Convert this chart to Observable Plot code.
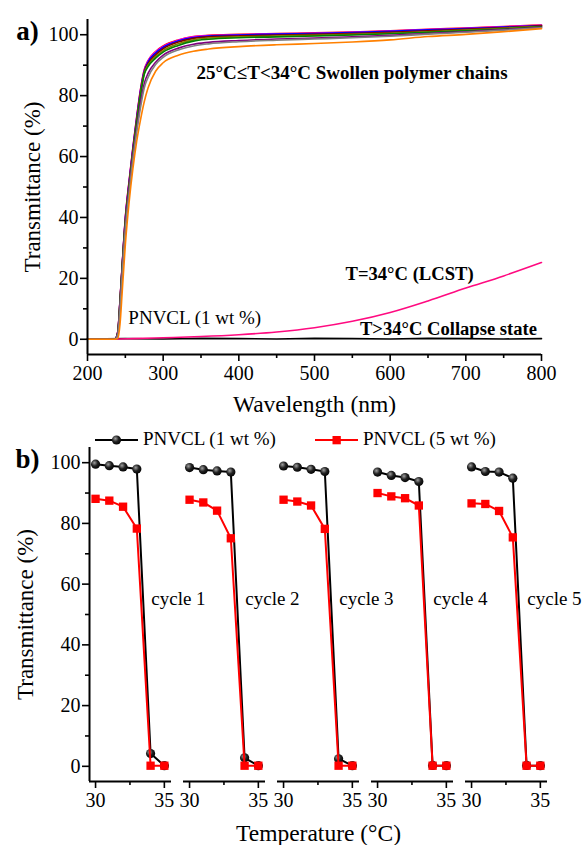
<!DOCTYPE html>
<html><head><meta charset="utf-8">
<script src="https://cdn.jsdelivr.net/npm/d3@7"></script>
<script src="https://cdn.jsdelivr.net/npm/@observablehq/plot@0.6"></script>
<style>
body{margin:0;background:#fff;}
#wrap{position:relative;width:582px;height:845px;overflow:hidden;background:#fff;font-family:"Liberation Serif","Times New Roman",serif;}
#top svg,#bottom svg{display:block}
#wrap svg text{font-family:"Liberation Serif","Times New Roman",serif !important;}
.leg{position:absolute;font-size:19px;line-height:20px;color:#000;white-space:nowrap}
</style></head>
<body><div id="wrap"><div id="top"></div><div id="bottom"></div><div id="legend"></div></div>
<script>
// ---------- Panel a) data ----------
const wavelength = [200, 236, 240, 243, 246, 250, 255, 260, 265, 270, 275, 280, 290, 300, 320, 340, 360, 400, 450, 500, 550, 600, 650, 700, 750, 800];
const swollenTemps = ["25", "26", "27", "28", "29", "30", "31", "32", "33"];
const swollenColors = ["#ff0000", "#ff00ff", "#0000ff", "#800000", "#808000", "#008000", "#800080", "#808080", "#ff8000"];
const tRed     = [0, 0, 2.5, 13, 25, 40, 52, 63, 73, 82, 88.5, 91.5, 94.5, 96.3, 98.3, 99.4, 99.8, 100.1, 100.4, 100.6, 100.9, 101.3, 101.8, 102.2, 102.7, 103.2];
const tMagenta = [0, 0, 2.4, 12.8, 24.8, 39.8, 51.8, 62.8, 72.8, 81.8, 88.3, 91.3, 94.3, 96.1, 98.2, 99.3, 99.7, 100.0, 100.3, 100.5, 100.8, 101.2, 101.7, 102.1, 102.6, 103.1];
const tBlue    = [0, 0, 2.3, 12.7, 24.7, 39.5, 51.5, 62.5, 72.5, 81.5, 88, 91, 94, 95.9, 98.0, 99.1, 99.6, 99.9, 100.2, 100.4, 100.7, 101.1, 101.6, 102.0, 102.5, 103.0];
const tWine    = [0, 0, 2.2, 12.5, 24.5, 39, 51, 62, 72, 81, 87.7, 90.5, 93.4, 95.4, 97.6, 98.8, 99.3, 99.6, 99.9, 100.1, 100.4, 100.8, 101.3, 101.8, 102.3, 102.9];
const tOlive   = [0, 0, 2.1, 12.3, 24.3, 38.5, 50.5, 61.5, 71.5, 80.5, 87.3, 90, 92.8, 94.8, 97.0, 98.3, 98.9, 99.3, 99.6, 99.8, 100.1, 100.5, 101.0, 101.5, 102.1, 102.7];
const tGreen   = [0, 0, 2, 12, 24, 38, 50, 61, 71, 80, 87, 89.5, 92.3, 94.3, 96.5, 97.9, 98.5, 99.0, 99.3, 99.6, 99.9, 100.3, 100.8, 101.3, 101.9, 102.6];
const tPurple  = [0, 0, 1.7, 11, 23, 37, 49, 60, 69, 77.5, 84, 87.3, 91.0, 93.3, 95.6, 96.9, 97.5, 98.1, 98.6, 98.9, 99.3, 99.8, 100.4, 101.0, 101.7, 102.4];
const tGray    = [0, 0, 1.5, 10, 22, 36, 48, 59, 68, 76, 82.5, 86, 90.2, 92.6, 95.0, 96.3, 97.0, 97.7, 98.2, 98.6, 99.0, 99.5, 100.2, 100.8, 101.5, 102.3];
const tOrange  = [0, 0, 0.3, 5, 16, 31, 45, 56, 65, 72, 78, 82.5, 88, 90.8, 93.3, 94.6, 95.3, 96.1, 96.7, 97.1, 97.6, 98.3, 99.4, 100.1, 101.0, 102.0];
const swollenValues = [tRed, tMagenta, tBlue, tWine, tOlive, tGreen, tPurple, tGray, tOrange];

const lcstWavelength = [200, 240, 260, 300, 350, 400, 450, 500, 550, 600, 650, 700, 750, 800];
const lcstValues     = [0, 0.1, 0.2, 0.5, 0.9, 1.5, 2.4, 3.8, 5.9, 8.8, 12.6, 16.8, 20.8, 25.2];
const collapseWavelength = [200, 250, 300, 350, 400, 450, 500, 550, 600, 650, 700, 750, 800];
const collapseValues     = [0.1, 0.2, 0.1, 0.3, 0.2, 0.1, 0.3, 0.2, 0.1, 0.3, 0.2, 0.1, 0.2];

const wlTicks = [200, 300, 400, 500, 600, 700, 800];
const wlMinorTicks = [250, 350, 450, 550, 650, 750];
const tTicks = [0, 20, 40, 60, 80, 100];
const tMinorTicks = [10, 30, 50, 70, 90];

// ---------- Panel b) data ----------
const seriesNames = ["PNVCL (1 wt %)", "PNVCL (5 wt %)"];
const temperatures = [30, 31, 32, 33, 34, 35];
const cycleNames = ["cycle 1", "cycle 2", "cycle 3", "cycle 4", "cycle 5"];
const pnvcl1wt = [
  [99.5, 99.0, 98.6, 97.9, 4.2, 0.2],
  [98.4, 97.7, 97.3, 96.9, 2.8, 0.2],
  [98.9, 98.5, 97.8, 97.1, 2.5, 0.2],
  [96.9, 95.8, 95.1, 93.8, 0.3, 0.2],
  [98.6, 97.1, 96.9, 94.9, 0.3, 0.2]
];
const pnvcl5wt = [
  [88.1, 87.5, 85.5, 78.3, 0.2, 0.2],
  [87.8, 86.9, 84.2, 75.1, 0.2, 0.2],
  [87.8, 87.2, 85.9, 78.2, 0.2, 0.2],
  [90.0, 88.9, 88.3, 85.9, 0.2, 0.2],
  [86.6, 86.4, 84.1, 75.4, 0.2, 0.2]
];
const tempTicks = [30, 35];
const tempMinorTicks = [32.5];

// ---------- build ----------
const serif = '"Liberation Serif","Times New Roman",serif';
const pts = (xs, ys) => xs.map((x, i) => ({x, y: ys[i]}));
const F = {fontFamily: serif};

const topPlot = Plot.plot({
  width: 582, height: 430,
  marginLeft: 87, marginRight: 41, marginTop: 19, marginBottom: 76,
  style: {fontFamily: serif, fontSize: "20px", background: "white", color: "black", overflow: "visible"},
  x: {domain: [200, 800]},
  y: {domain: [-5, 105]},
  marks: [
    Plot.line(pts(collapseWavelength, collapseValues), {x: "x", y: "y", stroke: "#000", strokeWidth: 1.6}),
    Plot.line(pts(lcstWavelength, lcstValues), {x: "x", y: "y", stroke: "#ff0a80", strokeWidth: 1.6, curve: "monotone-x"}),
    ...swollenValues.map((vals, i) => Plot.line(pts(wavelength, vals), {x: "x", y: "y", stroke: swollenColors[i], strokeWidth: 1.6, curve: "monotone-x"})),
    Plot.ruleX([200], {stroke: "black", strokeWidth: 2}),
    Plot.ruleY([-5], {stroke: "black", strokeWidth: 2}),
    Plot.axisX({...F, ticks: wlTicks, tickFormat: "d", tickSize: 7, tickPadding: 4, fontSize: 20, label: null, strokeWidth: 1.6}),
    Plot.axisX({ticks: wlMinorTicks, tickSize: 4, tickFormat: () => "", label: null, strokeWidth: 1.6}),
    Plot.axisY({...F, ticks: tTicks, tickFormat: "d", tickSize: 7, tickPadding: 2, fontSize: 20, label: null, strokeWidth: 1.6}),
    Plot.axisY({ticks: tMinorTicks, tickSize: 4, tickFormat: () => "", label: null, strokeWidth: 1.6}),
    Plot.text(["25°C≤T<34°C Swollen polymer chains"], {...F, x: 344, y: 87.5, text: d => d, textAnchor: "start", fontWeight: "bold", fontSize: 19}),
    Plot.text(["T=34°C (LCST)"], {...F, x: 541, y: 21.3, text: d => d, textAnchor: "start", fontWeight: "bold", fontSize: 18.6}),
    Plot.text(["T>34°C Collapse state"], {...F, x: 560, y: 3.4, text: d => d, textAnchor: "start", fontWeight: "bold", fontSize: 18.6}),
    Plot.text([seriesNames[0]], {...F, x: 254, y: 7, text: d => d, textAnchor: "start", fontSize: 19}),
    Plot.text(["a)"], {...F, frameAnchor: "top-left", dx: -60, dy: 12, text: d => d, textAnchor: "middle", lineAnchor: "middle", fontWeight: "bold", fontSize: 27}),
    Plot.text(["Transmittance (%)"], {...F, frameAnchor: "left", dx: -55, rotate: -90, text: d => d, textAnchor: "middle", lineAnchor: "middle", fontSize: 23}),
    Plot.text(["Wavelength (nm)"], {...F, frameAnchor: "bottom", dy: 50, text: d => d, lineAnchor: "middle", fontSize: 23.5})
  ]
});
document.getElementById("top").append(topPlot);

const rows1 = cycleNames.flatMap((c, i) => temperatures.map((t, j) => ({cycle: c, temp: t, value: pnvcl1wt[i][j]})));
const rows5 = cycleNames.flatMap((c, i) => temperatures.map((t, j) => ({cycle: c, temp: t, value: pnvcl5wt[i][j]})));
const firstCycle = [{cycle: cycleNames[0]}];
const middleCycle = [{cycle: cycleNames[2]}];

const bottomPlot = Plot.plot({
  width: 582, height: 415,
  marginLeft: 88, marginRight: 34, marginTop: 17, marginBottom: 64,
  style: {fontFamily: serif, fontSize: "20px", background: "white", color: "black", overflow: "visible"},
  fx: {domain: cycleNames, paddingInner: 0.13, paddingOuter: 0, axis: null},
  x: {domain: [29.56, 35.52]},
  y: {domain: [-5, 105]},
  marks: [
    Plot.ruleY([-5], {stroke: "black", strokeWidth: 2}),
    Plot.ruleX(firstCycle, {fx: "cycle", x: 29.56, stroke: "black", strokeWidth: 2}),
    Plot.axisX({...F, ticks: tempTicks, tickFormat: "d", tickSize: 7, tickPadding: 4, fontSize: 20, label: null, strokeWidth: 1.6}),
    Plot.axisX({ticks: tempMinorTicks, tickSize: 4, tickFormat: () => "", label: null, strokeWidth: 1.6}),
    Plot.axisY({...F, ticks: tTicks, tickFormat: "d", tickSize: 7, tickPadding: 2, fontSize: 20, label: null, strokeWidth: 1.6}),
    Plot.axisY({ticks: tMinorTicks, tickSize: 4, tickFormat: () => "", label: null, strokeWidth: 1.6}),
    Plot.line(rows1, {fx: "cycle", x: "temp", y: "value", stroke: "black", strokeWidth: 2}),
    Plot.dot(rows1, {fx: "cycle", x: "temp", y: "value", r: 4.6, fill: "url(#ball)"}),
    Plot.line(rows5, {fx: "cycle", x: "temp", y: "value", stroke: "#ff0000", strokeWidth: 2}),
    Plot.dot(rows5, {fx: "cycle", x: "temp", y: "value", r: 4.7, symbol: "square", fill: "#ff0000"}),
    Plot.text(cycleNames, {...F, fx: d => d, x: 34.05, y: 55, text: d => d, textAnchor: "start", fontSize: 19}),
    Plot.text(firstCycle, {...F, fx: "cycle", frameAnchor: "left", dx: -64, rotate: -90, text: () => "Transmittance (%)", textAnchor: "middle", lineAnchor: "middle", fontSize: 23}),
    Plot.text(firstCycle, {...F, fx: "cycle", frameAnchor: "top-left", dx: -62, dy: 12, text: () => "b)", textAnchor: "middle", lineAnchor: "middle", fontWeight: "bold", fontSize: 27}),
    Plot.text(middleCycle, {...F, fx: "cycle", frameAnchor: "bottom", dy: 52, text: () => "Temperature (°C)", lineAnchor: "middle", fontSize: 23.5})
  ]
});
const ns = "http://www.w3.org/2000/svg";
const defs = document.createElementNS(ns, "defs");
defs.innerHTML = '<radialGradient id="ball" cx="0.38" cy="0.35" r="0.7"><stop offset="0" stop-color="#a0a0a0"/><stop offset="0.5" stop-color="#222"/><stop offset="1" stop-color="#000"/></radialGradient>';
bottomPlot.insertBefore(defs, bottomPlot.firstChild);
document.getElementById("bottom").append(bottomPlot);

// legend (above panel b)
const legend = document.getElementById("legend");
const legendItems = [
  {name: seriesNames[0], color: "#000", marker: "circle", left: 95},
  {name: seriesNames[1], color: "#ff0000", marker: "square", left: 315}
];
legendItems.forEach(item => {
  const svg = document.createElementNS(ns, "svg");
  svg.setAttribute("width", 44); svg.setAttribute("height", 20);
  svg.style.position = "absolute"; svg.style.left = item.left + "px"; svg.style.top = "430px";
  const mk = item.marker === "circle"
    ? '<defs><radialGradient id="ballLeg" cx="0.38" cy="0.35" r="0.7"><stop offset="0" stop-color="#a0a0a0"/><stop offset="0.5" stop-color="#222"/><stop offset="1" stop-color="#000"/></radialGradient></defs><circle cx="21.5" cy="10" r="4.6" fill="url(#ballLeg)"/>'
    : '<rect x="17.5" y="6" width="8.3" height="8.3" fill="' + item.color + '"/>';
  svg.innerHTML = '<line x1="0" x2="43" y1="10" y2="10" stroke="' + item.color + '" stroke-width="2"/>' + mk;
  legend.append(svg);
  const div = document.createElement("div");
  div.className = "leg";
  div.style.left = (item.left + 48) + "px";
  div.style.top = "429px";
  div.textContent = item.name;
  legend.append(div);
});
</script>
</body></html>
